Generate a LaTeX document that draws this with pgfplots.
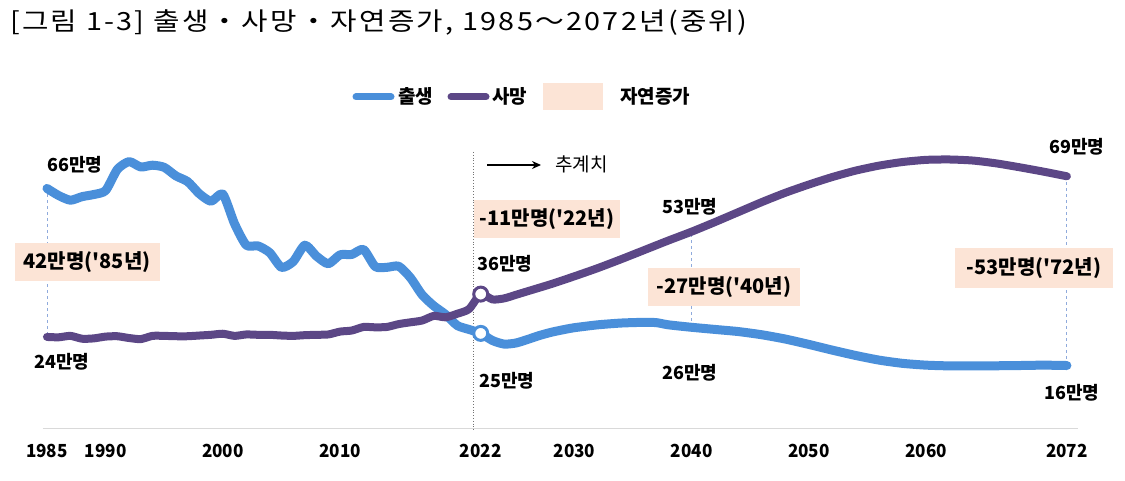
\documentclass[border=0pt]{standalone}
\usepackage{fontspec}
\usepackage{pgfplots}
\pgfplotsset{compat=1.18}
\usetikzlibrary{arrows.meta}
\setmainfont{Noto Sans CJK KR}
\newfontfamily\narrowfont[FakeStretch=0.95]{Noto Sans CJK KR}
\newfontfamily\boxfont[Ligatures=ResetAll]{Noto Sans CJK KR}
\newfontfamily\titlefont[LetterSpace=8]{Noto Sans CJK KR}
\definecolor{birth}{HTML}{4A8FDA}
\definecolor{death}{HTML}{5C4786}
\definecolor{peach}{HTML}{FCE4D6}
\definecolor{guide}{HTML}{8FAADC}
\begin{document}
\begin{tikzpicture}[x=1pt,y=1pt]
\path[use as bounding box] (0,0) rectangle (1125,480);
\begin{axis}[at={(43pt,52pt)}, anchor=south west, scale only axis,
  width=1035pt, height=291pt,
  xmin=1984.66, xmax=2072.94, ymin=-1.5, ymax=80, clip=false,
  axis y line=none, axis x line=bottom,
  x axis line style={draw=black!15, line width=1pt, -},
  xtick={1985,1990,2000,2010,2022,2030,2040,2050,2060,2072},
  xticklabels={1985,1990,2000,2010,2022,2030,2040,2050,2060,2072},
  xtick style={draw=none}, major tick length=0pt,
  xticklabel style={font=\narrowfont\bfseries\fontsize{18}{18}\selectfont, anchor=center, yshift=-22.5pt},
]
% guide lines
\draw[guide, dashed, line width=0.8pt] (axis cs:1985,65.6) -- (axis cs:1985,24);
\draw[guide, dashed, line width=0.8pt] (axis cs:2040,52.7) -- (axis cs:2040,26.7);
\draw[guide, dashed, line width=0.8pt] (axis cs:2072,69) -- (axis cs:2072,16);
\draw[black!55, dotted, line width=0.8pt] (axis cs:2021.4,75.8) -- (axis cs:2021.4,-2.1);
% natural increase box 1985
\node[fill=peach, minimum width=145pt, minimum height=38pt, inner sep=0pt, font=\boxfont\bfseries\fontsize{20}{20}\selectfont] at (axis cs:1988.42,66-75*0.28) {42만명('85년)};
\addplot[birth, line width=9pt, smooth, tension=0.4, line cap=round, line join=round] coordinates {
(1985,65.6)(1986,63.6)(1987,62.3)(1988,63.3)(1989,63.9)(1990,65.0)(1991,70.9)(1992,73.1)(1993,71.6)(1994,72.1)(1995,71.5)(1996,69.1)(1997,67.5)(1998,64.1)(1999,62.0)(2000,64.0)(2001,55.7)(2002,49.7)(2003,49.5)(2004,47.6)(2005,43.5)(2006,45.1)(2007,49.7)(2008,46.6)(2009,44.5)(2010,47.0)(2011,47.1)(2012,48.5)(2013,43.7)(2014,43.5)(2015,43.8)(2016,40.6)(2017,35.8)(2018,32.7)(2019,30.3)(2020,27.2)(2021,26.1)(2022,25.0)(2023,23.0)(2024,22.0)(2025,22.3)(2026,23.3)(2027,24.4)(2028,25.3)(2029,26.0)(2030,26.6)(2032,27.4)(2034,27.9)(2036,28.1)(2037,28.0)(2038,27.4)(2040,26.7)(2042,26.1)(2044,25.5)(2046,24.6)(2048,23.4)(2050,21.9)(2052,20.3)(2054,18.8)(2056,17.5)(2058,16.6)(2060,16.1)(2062,15.9)(2065,15.9)(2068,16.0)(2070,16.1)(2072,16.0)
};
\addplot[death, line width=8pt, smooth, tension=0.4, line cap=round, line join=round] coordinates {
(1985,24.0)(1986,23.9)(1987,24.3)(1988,23.5)(1989,23.6)(1990,24.1)(1991,24.2)(1992,23.7)(1993,23.4)(1994,24.3)(1995,24.3)(1996,24.2)(1997,24.2)(1998,24.4)(1999,24.6)(2000,24.9)(2001,24.3)(2002,24.7)(2003,24.6)(2004,24.6)(2005,24.4)(2006,24.3)(2007,24.5)(2008,24.6)(2009,24.7)(2010,25.5)(2011,25.8)(2012,26.8)(2013,26.7)(2014,26.8)(2015,27.6)(2016,28.1)(2017,28.6)(2018,29.9)(2019,29.5)(2020,30.5)(2021,31.8)(2022,36.0)(2023,34.5)(2024,34.8)(2025,35.8)(2026,36.8)(2028,38.8)(2030,41.0)(2032,43.3)(2034,45.8)(2036,48.4)(2038,51.0)(2040,53.5)(2042,56.2)(2044,59.0)(2046,61.8)(2048,64.4)(2050,66.7)(2052,68.8)(2054,70.6)(2056,72.0)(2058,73.0)(2060,73.6)(2062,73.7)(2064,73.4)(2066,72.6)(2068,71.5)(2070,70.3)(2072,69.0)
};
\addplot[only marks, mark=*, mark size=7pt, mark options={fill=white, draw=birth, line width=3pt}] coordinates {(2022,25.0)};
\addplot[only marks, mark=*, mark size=7pt, mark options={fill=white, draw=death, line width=3pt}] coordinates {(2022,36.0)};
\end{axis}
% title
\node[anchor=west, inner sep=0pt] at (10,457) {\scalebox{1.15}[1]{\titlefont\fontsize{25}{25}\selectfont [그림 1-3] 출생・사망・자연증가, 1985～2072년(중위)}};
% legend
\draw[birth, line width=7pt, line cap=round] (356,383) -- (391,383);
\node[anchor=west, font=\bfseries\fontsize{19}{19}\selectfont, inner sep=0pt] at (398,384) {출생};
\draw[death, line width=7pt, line cap=round] (451,383) -- (486,383);
\node[anchor=west, font=\bfseries\fontsize{19}{19}\selectfont, inner sep=0pt] at (492,384) {사망};
\fill[peach] (543,370) rectangle (603,397);
\node[anchor=west, font=\bfseries\fontsize{19}{19}\selectfont, inner sep=0pt] at (620,384) {자연증가};
% projection arrow
\draw[-{Stealth[length=9pt,width=8pt]}, line width=1.4pt] (487,315) -- (541,315);
\node[anchor=west, font=\fontsize{19}{19}\selectfont, inner sep=0pt] at (555,316) {추계치};
% boxes
\begin{scope}[every node/.style={fill=peach, inner sep=0pt, font=\boxfont\bfseries\fontsize{20}{20}\selectfont}]
\node[minimum width=146pt, minimum height=38pt] at (547,261) {-11만명('22년)};
\node[minimum width=152pt, minimum height=37pt] at (724,193) {-27만명('40년)};
\node[minimum width=158pt, minimum height=40pt] at (1034,212) {-53만명('72년)};
\end{scope}
% value labels
\begin{scope}[every node/.style={font=\bfseries\fontsize{18}{18}\selectfont, inner sep=0pt}]
\node at (75,315) {66만명};
\node at (62,118) {24만명};
\node at (505,216) {36만명};
\node at (507,99) {25만명};
\node at (690,273) {53만명};
\node at (690,107) {26만명};
\node at (1077,333) {69만명};
\node at (1072,87) {16만명};
\end{scope}
\end{tikzpicture}
\end{document}
